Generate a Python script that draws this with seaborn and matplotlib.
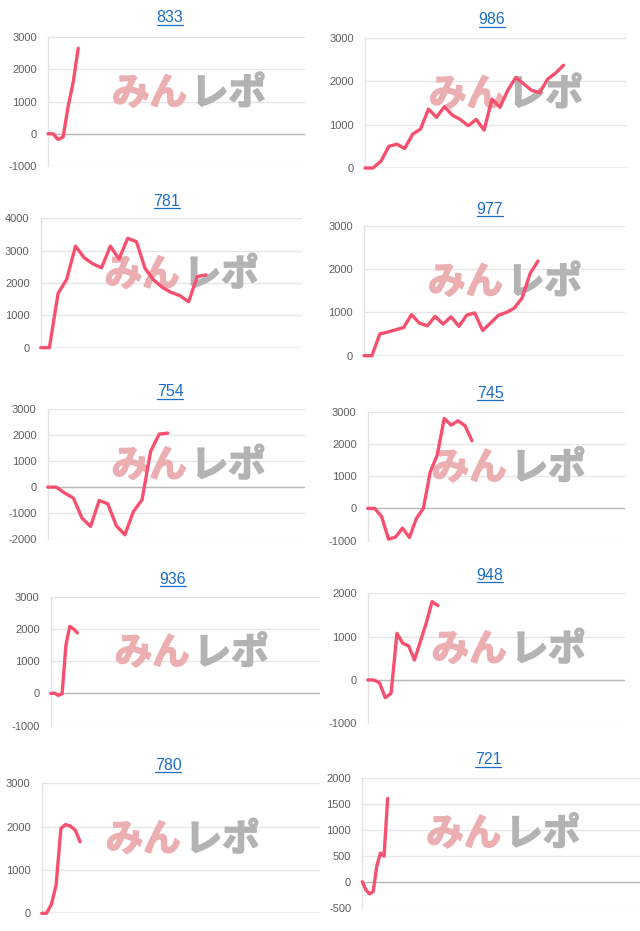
import numpy as np
import pandas as pd
import matplotlib
matplotlib.use("Agg")
import matplotlib.pyplot as plt
import matplotlib.patheffects as pe
import seaborn as sns
from matplotlib.lines import Line2D

# 台番号ごとの差枚推移（読み取り値）
titles = ["833", "986", "781", "977", "754", "745", "936", "948", "780", "721"]
s833 = [0, 0, -180, -100, 850, 1600, 2650]
s986 = [0, 0, 155, 500, 550, 450, 780, 900, 1360, 1170, 1415, 1220, 1120,
        975, 1120, 875, 1590, 1400, 1800, 2090, 1940, 1790, 1740, 2050, 2190, 2370]
s781 = [0, 0, 1680, 2120, 3140, 2780, 2590, 2470, 3140, 2740, 3380, 3280,
        2450, 2090, 1860, 1710, 1610, 1420, 2200, 2250]
s977 = [0, 0, 505, 545, 600, 650, 950, 755, 690, 910, 730, 900, 680, 940,
        990, 585, 755, 935, 1000, 1100, 1340, 1900, 2190]
s754 = [0, 0, -231, -424, -1195, -1517, -514, -643, -1490, -1838, -938,
        -488, 1375, 2044, 2082]
s745 = [0, 0, -250, -950, -890, -610, -900, -310, 0, 1137, 1654, 2790,
        2584, 2718, 2563, 2098]
s936 = [0, 10, -60, -10, 1500, 2080, 2000, 1880]
s948 = [0, 0, -60, -408, -308, 1077, 846, 785, 462, 885, 1308, 1808, 1715]
s780 = [0, 0, 200, 650, 1960, 2050, 2010, 1920, 1650]
s721 = [0, -160, -235, -190, 300, 550, 490, 1600]
series = [s833, s986, s781, s977, s754, s745, s936, s948, s780, s721]

y_min = [-1000, 0, 0, 0, -2000, -1000, -1000, -1000, 0, -500]
y_max = [3000, 3000, 4000, 3000, 3000, 3000, 3000, 2000, 3000, 2000]
y_step = [1000, 1000, 1000, 1000, 1000, 1000, 1000, 1000, 1000, 500]
x_total = [51, 33, 30, 33, 30, 37, 70.7, 44, 58, 76.7]

# 各グラフの枠（ピクセル: 左, 右, 上, 下）とタイトル位置
W, H = 640, 931
boxes = [(48, 305, 37, 166), (365, 627, 38, 168),
         (40.7, 301.7, 218.3, 347.7), (364, 625, 226, 355.7),
         (47.7, 305, 409.3, 539), (367.7, 625, 411.7, 540.7),
         (50.7, 320, 596.7, 725.7), (367.7, 625, 593.3, 723.3),
         (41.7, 320, 783.3, 913.3), (362.3, 640, 777.7, 907.7)]
title_pos = [(170, 18), (492, 20), (167, 201), (490, 209), (170, 392),
             (490, 393), (173, 579), (490, 575), (168, 765), (488, 760)]

LINE = "#f7506e"
LINK = "#1e6ec8"
PINK = "#ebaeb1"
GRAY = "#b3b3b3"

sns.set_theme(style="white")
plt.rcParams["font.family"] = ["Liberation Sans", "DejaVu Sans"]

fig = plt.figure(figsize=(W / 100, H / 100), dpi=100)

for i, vals in enumerate(series):
    L, R, T, B = boxes[i]
    wpx, hpx = R - L, B - T
    ax = fig.add_axes([L / W, 1 - B / H, wpx / W, hpx / H])
    df = pd.DataFrame({"x": np.arange(len(vals)), "y": vals})
    sns.lineplot(data=df, x="x", y="y", ax=ax, color=LINE, linewidth=2.4, zorder=3)
    ax.lines[-1].set_clip_on(False)
    ax.lines[-1].set_solid_joinstyle("round")

    ax.set_xlim(0, x_total[i])
    ax.set_ylim(y_min[i], y_max[i])
    ticks = np.arange(y_min[i], y_max[i] + 1, y_step[i])
    ax.set_yticks(ticks)
    ax.set_yticklabels([str(t) for t in ticks])
    ax.set_xticks([])
    ax.set_xlabel("")
    ax.set_ylabel("")
    ax.grid(axis="y", color="#e6e6e6", linewidth=1)
    ax.axhline(0, color="#b8b8b8", linewidth=1, zorder=2)
    for sp in ["top", "right", "bottom"]:
        ax.spines[sp].set_visible(False)
    ax.spines["left"].set_color("#e3e3e3")
    ax.spines["left"].set_linewidth(1)
    ax.tick_params(axis="y", length=0, pad=8, labelsize=8, labelcolor="#606060")

    # ロゴの透かし
    cy = 1 - 56 / hpx
    for txt, ha, dx, col in [("みん", "right", -2, PINK), ("レポ", "left", 2, GRAY)]:
        ax.text((141 + dx) / wpx, cy, txt, transform=ax.transAxes, ha=ha, va="center",
                fontsize=27, fontweight="bold", color=col,
                family=["Noto Sans CJK JP", "DejaVu Sans"], zorder=1, clip_on=False,
                path_effects=[pe.withStroke(linewidth=1.2, foreground=col)])

title_texts = []
for i, t in enumerate(titles):
    x, y = title_pos[i]
    title_texts.append(fig.text(x / W, 1 - y / H, t, ha="center", va="center",
                                fontsize=11.5, color=LINK))

# タイトルに下線
fig.canvas.draw()
r = fig.canvas.get_renderer()
for txt in title_texts:
    bb = txt.get_window_extent(renderer=r)
    yy = (bb.y0 + 1) / H
    fig.add_artist(Line2D([bb.x0 / W, bb.x1 / W], [yy, yy], color=LINK, linewidth=0.9))

fig.savefig("out.png", dpi=100)
